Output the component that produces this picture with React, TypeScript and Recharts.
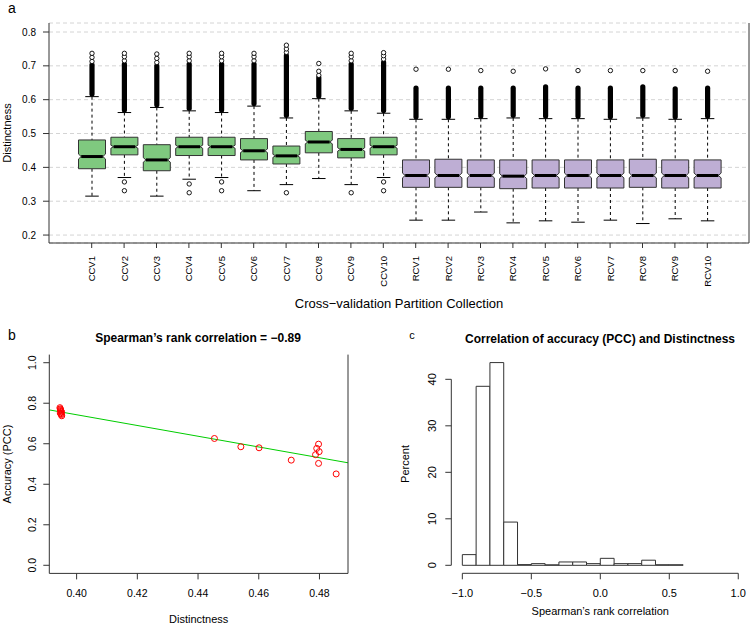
import React from "react";
import {
  ComposedChart,
  ScatterChart,
  Scatter,
  Bar,
  XAxis,
  YAxis,
  CartesianGrid,
  ReferenceLine,
  ReferenceArea,
} from "recharts";

const FONT = "'Liberation Sans', Arial, Helvetica, sans-serif";
const GREEN = "#7fc97f";
const PURPLE = "#beaed4";
const AXIS = "#333";

// ---- panel a: distinctness per partition collection ----
const cvNames = [
  "CCV1", "CCV2", "CCV3", "CCV4", "CCV5", "CCV6", "CCV7", "CCV8", "CCV9", "CCV10",
  "RCV1", "RCV2", "RCV3", "RCV4", "RCV5", "RCV6", "RCV7", "RCV8", "RCV9", "RCV10",
];
const q1 = [0.396, 0.437, 0.39, 0.435, 0.435, 0.422, 0.41, 0.443, 0.428, 0.437,
  0.341, 0.341, 0.341, 0.337, 0.339, 0.339, 0.339, 0.341, 0.339, 0.339];
const medians = [0.432, 0.461, 0.422, 0.461, 0.461, 0.449, 0.434, 0.475, 0.453, 0.461,
  0.376, 0.376, 0.376, 0.374, 0.376, 0.376, 0.376, 0.376, 0.376, 0.376];
const q3 = [0.481, 0.489, 0.467, 0.489, 0.489, 0.485, 0.463, 0.506, 0.485, 0.489,
  0.422, 0.424, 0.422, 0.422, 0.422, 0.422, 0.422, 0.424, 0.422, 0.422];
const whiskerLo = [0.315, 0.37, 0.315, 0.365, 0.37, 0.331, 0.349, 0.367, 0.349, 0.37,
  0.244, 0.244, 0.268, 0.236, 0.242, 0.238, 0.244, 0.234, 0.248, 0.242];
const whiskerHi = [0.609, 0.562, 0.577, 0.567, 0.562, 0.581, 0.546, 0.603, 0.567, 0.56,
  0.542, 0.542, 0.544, 0.546, 0.544, 0.544, 0.542, 0.546, 0.542, 0.544];
// top of the dense run of outliers above the upper whisker
const denseTop = [0.703, 0.705, 0.7, 0.705, 0.705, 0.705, 0.73, 0.665, 0.705, 0.71,
  0.634, 0.634, 0.634, 0.634, 0.638, 0.634, 0.634, 0.638, 0.632, 0.634];
const upperOutliers = [
  [0.713, 0.725, 0.737], [0.715, 0.727, 0.737], [0.71, 0.722, 0.735], [0.715, 0.727, 0.737],
  [0.715, 0.727, 0.737], [0.715, 0.727, 0.737], [0.74, 0.75, 0.761], [0.672, 0.684, 0.707],
  [0.715, 0.727, 0.737], [0.72, 0.73, 0.739],
  [0.69], [0.69], [0.686], [0.684], [0.691], [0.686], [0.686], [0.686], [0.686], [0.684],
];
const lowerOutliers = [
  [], [0.357, 0.331], [], [0.351, 0.325], [0.357, 0.331], [], [0.325], [], [0.325], [0.357, 0.331],
  [], [], [], [], [], [], [], [], [], [],
];

// ---- panel b: accuracy vs distinctness ----
const meanDistinctness = [0.3945, 0.3946, 0.3947, 0.3948, 0.3949, 0.395, 0.3946, 0.3948, 0.395, 0.3951,
  0.4454, 0.4541, 0.4601, 0.4707, 0.4797, 0.4791, 0.4799, 0.4787, 0.4797, 0.4855];
const accuracyPCC = [0.778, 0.772, 0.768, 0.764, 0.76, 0.756, 0.752, 0.748, 0.744, 0.738,
  0.626, 0.585, 0.58, 0.519, 0.598, 0.577, 0.561, 0.546, 0.503, 0.451];
const fitX = [0.391, 0.4894];
const fitY = [0.767, 0.506];

// ---- panel c: histogram of Spearman correlations ----
const binEdges = [-1.0, -0.9, -0.8, -0.7, -0.6, -0.5, -0.4, -0.3, -0.2, -0.1, 0.0, 0.1, 0.2, 0.3, 0.4, 0.5, 0.6];
const binPercent = [2.3, 38.5, 43.6, 9.3, 0.15, 0.36, 0.1, 0.72, 0.72, 0.36, 1.5, 0.36, 0.36, 1.1, 0.12, 0.12];

const boxData = cvNames.map((name, i) => ({
  name,
  q1: q1[i],
  med: medians[i],
  q3: q3[i],
  wLo: whiskerLo[i],
  wHi: whiskerHi[i],
  dense: denseTop[i],
  upper: upperOutliers[i],
  lower: lowerOutliers[i],
  lo: Math.min(whiskerLo[i], ...lowerOutliers[i]),
  hi: Math.max(denseTop[i], ...upperOutliers[i]),
}));

const scatterData = meanDistinctness.map((x, i) => ({ x, y: accuracyPCC[i] }));

const histBins = binPercent.map((p, i) => ({ x1: binEdges[i], x2: binEdges[i + 1], pct: p }));

function BoxShape(props: any) {
  const { x, y, width, height, payload: d } = props;
  const py = (v: number) => y + (height * (d.hi - v)) / (d.hi - d.lo);
  const cx = x + width / 2;
  const L = x;
  const R = x + width;
  const top = py(d.q3);
  const bot = py(d.q1);
  const mid = py(d.med);
  const nh = (bot - top) * 0.085;
  const inset = width * 0.1;
  const cap = width / 4;
  const fill = d.name.startsWith("CCV") ? GREEN : PURPLE;
  const pts = [
    [L, top], [R, top], [R, mid - nh], [R - inset, mid], [R, mid + nh],
    [R, bot], [L, bot], [L, mid + nh], [L + inset, mid], [L, mid - nh],
  ].map((p) => p.join(",")).join(" ");
  const yHi = py(d.wHi);
  const yLo = py(d.wLo);
  const yDense = py(d.dense);
  return (
    <g>
      <line x1={cx} x2={cx} y1={yHi} y2={top} stroke="#000" strokeDasharray="3 3" />
      <line x1={cx} x2={cx} y1={bot} y2={yLo} stroke="#000" strokeDasharray="3 3" />
      <line x1={cx - cap} x2={cx + cap} y1={yHi} y2={yHi} stroke="#000" />
      <line x1={cx - cap} x2={cx + cap} y1={yLo} y2={yLo} stroke="#000" />
      <rect x={cx - 2.6} width={5.2} y={yDense - 2.6} height={yHi - yDense + 2.6} rx={2.6} fill="#000" />
      {d.upper.map((v: number, k: number) => (
        <circle key={"u" + k} cx={cx} cy={py(v)} r={2.2} fill="#fff" stroke="#000" strokeWidth={0.9} />
      ))}
      {d.lower.map((v: number, k: number) => (
        <circle key={"l" + k} cx={cx} cy={py(v)} r={2.2} fill="#fff" stroke="#000" strokeWidth={0.9} />
      ))}
      <polygon points={pts} fill={fill} stroke="#333" strokeWidth={1} />
      <line x1={L + inset} x2={R - inset} y1={mid} y2={mid} stroke="#000" strokeWidth={3} />
    </g>
  );
}

const tickText = { fontFamily: FONT, fill: "#000" };

function TickAY(props: any) {
  const { x, y, payload } = props;
  return (
    <text x={x - 5} y={y} textAnchor="end" dominantBaseline="central" fontSize={10} style={tickText}>
      {Number(payload.value).toFixed(1)}
    </text>
  );
}

function TickAX(props: any) {
  const { x, y, payload } = props;
  const ty = y + 6;
  return (
    <text x={x} y={ty} transform={`rotate(-90, ${x}, ${ty})`} textAnchor="end" dominantBaseline="central" fontSize={9.5} style={tickText}>
      {payload.value}
    </text>
  );
}

function makeRotYTick(digits: number, dx: number, size: number) {
  return function RotYTick(props: any) {
    const { x, y, payload } = props;
    const tx = x + dx;
    return (
      <text x={tx} y={y} transform={`rotate(-90, ${tx}, ${y})`} textAnchor="middle" dominantBaseline="central" fontSize={size} style={tickText}>
        {Number(payload.value).toFixed(digits)}
      </text>
    );
  };
}

function makeXTick(digits: number, size: number) {
  return function XTick(props: any) {
    const { x, y, payload } = props;
    const v = Number(payload.value);
    const s = Math.abs(v).toFixed(digits);
    return (
      <text x={x} y={y + 12} textAnchor="middle" dominantBaseline="central" fontSize={size} style={tickText}>
        {v < 0 ? "\u2212" + s : s}
      </text>
    );
  };
}

const TickBY = makeRotYTick(1, -9, 10.5);
const TickBX = makeXTick(2, 10.5);
const TickCY = makeRotYTick(0, -11, 11);
const TickCX = makeXTick(1, 11);

const axisTitle = { fontFamily: FONT, fontSize: 11, fill: "#000", textAnchor: "middle" as const };

function Caption({ x, y, size, bold, children }: any) {
  return (
    <div
      style={{
        position: "absolute",
        left: x,
        top: y,
        transform: "translate(-50%, -50%)",
        fontFamily: FONT,
        fontSize: size,
        fontWeight: bold ? "bold" : "normal",
        whiteSpace: "nowrap",
        lineHeight: 1,
        color: "#000",
      }}
    >
      {children}
    </div>
  );
}

export default function App() {
  return (
    <div style={{ position: "absolute", left: 0, top: 0, width: 750, height: 626, background: "#fff", overflow: "hidden" }}>
      {/* a */}
      <div style={{ position: "absolute", left: 0, top: 0 }}>
        <ComposedChart width={750} height={310} data={boxData} margin={{ top: 23, right: 0, bottom: 0, left: 0 }}>
          <CartesianGrid vertical={false} stroke="#d4d4d4" strokeDasharray="4 3" />
          <XAxis
            dataKey="name"
            interval={0}
            height={67}
            padding={{ left: 26.5, right: 25.5 }}
            tick={<TickAX />}
            tickSize={5}
            tickLine={{ stroke: AXIS }}
            axisLine={{ stroke: AXIS }}
            label={{ value: "Cross\u2212validation Partition Collection", position: "insideBottom", offset: 2, style: { fontFamily: FONT, fontSize: 13, fill: "#000" } }}
          />
          <XAxis xAxisId="top" dataKey="name" orientation="top" height={0} tick={false} tickLine={false} axisLine={{ stroke: AXIS }} />
          <YAxis
            type="number"
            width={49}
            domain={[0.1765, 0.8266]}
            allowDataOverflow
            ticks={[0.2, 0.3, 0.4, 0.5, 0.6, 0.7, 0.8]}
            tick={<TickAY />}
            tickLine={{ stroke: AXIS }}
            axisLine={{ stroke: AXIS }}
            label={{ value: "Distinctness", angle: -90, position: "insideLeft", offset: 7, style: axisTitle }}
          />
          <YAxis yAxisId="right" orientation="right" width={1} domain={[0.1765, 0.8266]} tick={false} tickLine={false} axisLine={{ stroke: AXIS }} />
          <Bar dataKey={(d: any) => [d.lo, d.hi]} barSize={27} shape={(p: any) => <BoxShape {...p} />} isAnimationActive={false} />
        </ComposedChart>
      </div>
      <Caption x={12} y={8} size={14}>a</Caption>

      {/* b */}
      <div style={{ position: "absolute", left: 0, top: 320 }}>
        <ScatterChart width={375} height={306} margin={{ top: 34.6, right: 26, bottom: 0, left: 0 }}>
          <XAxis
            type="number"
            dataKey="x"
            domain={[0.391, 0.4894]}
            allowDataOverflow
            ticks={[0.4, 0.42, 0.44, 0.46, 0.48]}
            height={52.6}
            tick={<TickBX />}
            tickLine={{ stroke: AXIS }}
            axisLine={{ stroke: AXIS }}
            label={{ value: "Distinctness", position: "insideBottom", offset: 3, style: { fontFamily: FONT, fontSize: 11, fill: "#000" } }}
          />
          <XAxis xAxisId="top" type="number" orientation="top" domain={[0.391, 0.4894]} height={0} tick={false} tickLine={false} axisLine={{ stroke: AXIS }} />
          <YAxis
            type="number"
            dataKey="y"
            width={49.3}
            domain={[-0.04, 1.04]}
            allowDataOverflow
            ticks={[0, 0.2, 0.4, 0.6, 0.8, 1.0]}
            tick={<TickBY />}
            tickLine={{ stroke: AXIS }}
            axisLine={{ stroke: AXIS }}
            label={{ value: "Accuracy (PCC)", angle: -90, position: "insideLeft", offset: 7, style: axisTitle }}
          />
          <YAxis yAxisId="right" type="number" orientation="right" width={1} domain={[-0.04, 1.04]} tick={false} tickLine={false} axisLine={{ stroke: AXIS }} />
          <ReferenceLine
            segment={[{ x: fitX[0], y: fitY[0] }, { x: fitX[1], y: fitY[1] }]}
            stroke="#00cd00"
            strokeWidth={1}
            ifOverflow="visible"
          />
          <Scatter
            data={scatterData}
            isAnimationActive={false}
            shape={(p: any) => <circle cx={p.cx} cy={p.cy} r={3} fill="none" stroke="#ff0000" strokeWidth={1} />}
          />
        </ScatterChart>
      </div>
      <Caption x={12} y={335} size={14}>b</Caption>
      <Caption x={198} y={338} size={12} bold>Spearman’s rank correlation = −0.89</Caption>

      {/* c */}
      <div style={{ position: "absolute", left: 375, top: 320 }}>
        <ComposedChart width={375} height={306} data={histBins} margin={{ top: 34.5, right: 0.7, bottom: 0, left: 0 }}>
          <XAxis
            type="number"
            dataKey="x1"
            domain={[-1.08, 1.08]}
            allowDataOverflow
            ticks={[-1, -0.5, 0, 0.5, 1]}
            height={52.7}
            tick={<TickCX />}
            tickLine={{ stroke: AXIS }}
            axisLine={false}
            label={{ value: "Spearman’s rank correlation", position: "insideBottom", offset: 11.4, style: { fontFamily: FONT, fontSize: 11, fill: "#000" } }}
          />
          <YAxis
            type="number"
            dataKey="pct"
            width={76.3}
            domain={[-1.72, 45.34]}
            allowDataOverflow
            ticks={[0, 10, 20, 30, 40]}
            tick={<TickCY />}
            tickLine={{ stroke: AXIS }}
            axisLine={false}
            label={{ value: "Percent", angle: -90, position: "insideLeft", offset: 30.6, style: axisTitle }}
          />
          {histBins.map((b, i) => (
            <ReferenceArea key={i} x1={b.x1} x2={b.x2} y1={0} y2={b.pct} fill="#ffffff" fillOpacity={1} stroke={AXIS} strokeWidth={1} ifOverflow="visible" />
          ))}
          <ReferenceLine segment={[{ x: -1.08, y: 0 }, { x: -1.08, y: 40 }]} stroke={AXIS} ifOverflow="visible" />
          <ReferenceLine segment={[{ x: -1, y: -1.72 }, { x: 1, y: -1.72 }]} stroke={AXIS} ifOverflow="visible" />
        </ComposedChart>
      </div>
      <Caption x={412} y={335} size={11}>c</Caption>
      <Caption x={600} y={339} size={12} bold>Correlation of accuracy (PCC) and Distinctness</Caption>
    </div>
  );
}
